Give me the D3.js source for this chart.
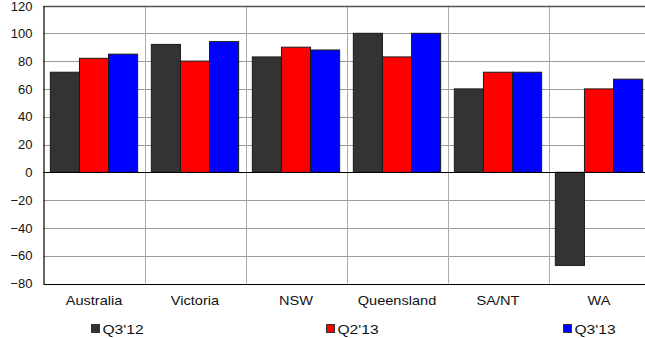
<!DOCTYPE html>
<html>
<head>
<meta charset="utf-8">
<script src="https://cdn.jsdelivr.net/npm/d3@7/dist/d3.min.js"></script>
<style>
  html, body { margin: 0; padding: 0; background: #fff; overflow: hidden; }
  svg { display: block; font-family: "Liberation Sans", Arial, sans-serif; }
</style>
</head>
<body>
<svg id="chart" width="645" height="338"></svg>
<script>
// Regions along the x axis
const categories = ["Australia", "Victoria", "NSW", "Queensland", "SA/NT", "WA"];
// Series names, in drawing order
const seriesNames = ["Q3'12", "Q2'13", "Q3'13"];
// Series values per region
const q312 = [72, 92, 83, 100, 60, -67];
const q213 = [82, 80, 90, 83, 72, 60];
const q313 = [85, 94, 88, 100, 72, 67];
const seriesColors = ["#333333", "#ff0000", "#0000ff"];
// Value axis ticks
const yTicks = [-80, -60, -40, -20, 0, 20, 40, 60, 80, 100, 120];

const seriesValues = [q312, q213, q313];
const svg = d3.select("#chart");

const plotLeft = 43.5, plotRight = 649.5, plotTop = 5.5, plotBottom = 283.5;

const x = d3.scaleBand().domain(categories).range([plotLeft, plotRight]).paddingInner(0).paddingOuter(0);
const xInner = d3.scaleBand().domain(seriesNames).range([0, x.bandwidth()]).paddingInner(0).paddingOuter(0.235);
const y = d3.scaleLinear().domain([-80, 120]).range([plotBottom, plotTop]);

// horizontal gridlines
svg.append("g").selectAll("line").data(yTicks.filter(t => t !== 0 && t !== 120 && t !== -80)).join("line")
  .attr("x1", plotLeft).attr("x2", plotRight)
  .attr("y1", d => Math.round(y(d)) + 0.5).attr("y2", d => Math.round(y(d)) + 0.5)
  .attr("stroke", "#9a9a9a").attr("stroke-width", 1);

// vertical category separators
svg.append("g").selectAll("line").data(categories.slice(1)).join("line")
  .attr("x1", d => Math.round(x(d)) + 0.5).attr("x2", d => Math.round(x(d)) + 0.5)
  .attr("y1", plotTop).attr("y2", plotBottom)
  .attr("stroke", "#ababab").attr("stroke-width", 1);

// top border
svg.append("line").attr("x1", plotLeft).attr("x2", plotRight)
  .attr("y1", Math.round(y(120)) + 0.5).attr("y2", Math.round(y(120)) + 0.5)
  .attr("stroke", "#555").attr("stroke-width", 1.5);

// bars
const groups = svg.append("g").selectAll("g").data(categories).join("g")
  .attr("transform", d => `translate(${x(d)},0)`);
groups.selectAll("rect")
  .data((c, i) => seriesNames.map((s, j) => ({ s, v: seriesValues[j][i], color: seriesColors[j] })))
  .join("rect")
  .attr("x", d => xInner(d.s))
  .attr("width", xInner.bandwidth())
  .attr("y", d => y(Math.max(0, d.v)))
  .attr("height", d => Math.abs(y(d.v) - y(0)))
  .attr("fill", d => d.color)
  .attr("stroke", "#1a1a1a").attr("stroke-width", 1);

// zero line
svg.append("line").attr("x1", plotLeft).attr("x2", plotRight)
  .attr("y1", Math.round(y(0)) + 0.5).attr("y2", Math.round(y(0)) + 0.5)
  .attr("stroke", "#000").attr("stroke-width", 1.2);

// bottom axis line
svg.append("line").attr("x1", plotLeft).attr("x2", plotRight)
  .attr("y1", Math.round(y(-80)) + 0.5).attr("y2", Math.round(y(-80)) + 0.5)
  .attr("stroke", "#000").attr("stroke-width", 1.2);

// y axis
const yAxis = svg.append("g").attr("transform", `translate(${plotLeft},0)`)
  .call(d3.axisLeft(y).tickValues(yTicks).tickSize(0).tickPadding(11));
yAxis.select(".domain").attr("stroke", "#000").attr("stroke-width", 1.2);
yAxis.selectAll("text").attr("font-size", 13).attr("fill", "#111")
  .attr("font-family", "'Liberation Sans', Arial, sans-serif");
yAxis.selectAll(".tick").filter(d => d === 120).select("text").attr("dy", "0.38em");

// category labels (slightly wide lettering)
svg.append("g").selectAll("text").data(categories).join("text")
  .attr("transform", d => `translate(${x(d) + x.bandwidth() / 2},305) scale(1.12,1)`)
  .attr("text-anchor", "middle")
  .attr("font-size", 13).attr("fill", "#111")
  .text(d => d);

// legend
const legendX = [91, 326, 563];
const legend = svg.append("g").selectAll("g").data(seriesNames).join("g")
  .attr("transform", (d, i) => `translate(${legendX[i]},324)`);
legend.append("rect").attr("x", 0.5).attr("y", 0.5).attr("width", 8).attr("height", 8)
  .attr("fill", (d, i) => seriesColors[i]).attr("stroke", "#333").attr("stroke-width", 1);
legend.append("text")
  .attr("transform", "translate(11.5,9.5) scale(1.2,1)")
  .attr("font-size", 13).attr("fill", "#111")
  .text(d => d);
</script>
</body>
</html>
